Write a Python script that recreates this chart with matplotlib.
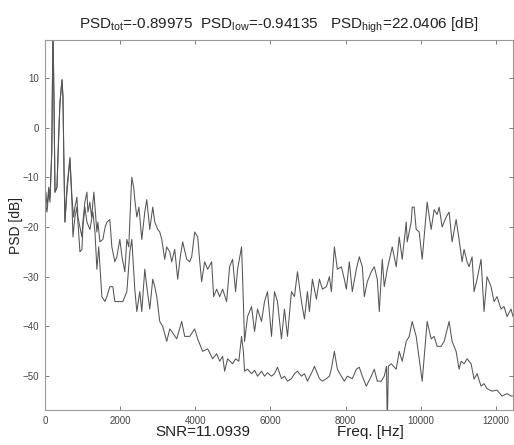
"""PSD spectrum of a signal (two traces), MATLAB-style look.
Saves out.png (514x445)."""
import matplotlib
matplotlib.use("Agg")
import matplotlib.pyplot as plt

plt.rcParams["font.family"] = ["Liberation Sans", "DejaVu Sans"]
plt.rcParams["mathtext.fontset"] = "custom"
plt.rcParams["mathtext.rm"] = "Liberation Sans"
plt.rcParams["mathtext.it"] = "Liberation Sans:italic"

# upper trace (Hz, dB)
freq_a = [0, 25, 53, 100, 133, 180, 212, 240, 266, 319, 360, 398, 452, 478, 505,
          531, 584, 664, 717, 760, 797, 850, 876, 930, 983, 1009, 1062, 1116, 1142,
          1195, 1240, 1301, 1340, 1381, 1408, 1461, 1540, 1600, 1650, 1726, 1780,
          1859, 1912, 1992, 2050, 2125, 2178, 2230, 2290, 2311, 2360, 2390, 2444,
          2500, 2576, 2656, 2709, 2789, 2868, 2922, 3001, 3054, 3108, 3187, 3240,
          3320, 3373, 3453, 3532, 3600, 3665, 3772, 3851, 3904, 3984, 4064, 4120,
          4170, 4250, 4329, 4436, 4489, 4568, 4650, 4728, 4834, 4914, 4993, 5073,
          5126, 5232, 5259, 5312, 5392, 5498, 5578, 5657, 5763, 5843, 5923, 6029,
          6109, 6188, 6294, 6374, 6454, 6560, 6640, 6720, 6826, 6906, 6985, 7038,
          7118, 7224, 7304, 7384, 7490, 7570, 7623, 7702, 7782, 7888, 7968, 8021,
          8101, 8180, 8287, 8366, 8446, 8499, 8579, 8685, 8765, 8845, 8898, 8977,
          9030, 9110, 9243, 9349, 9429, 9508, 9615, 9641, 9747, 9774, 9827, 9880,
          9960, 10040, 10172, 10279, 10358, 10438, 10491, 10571, 10677, 10757,
          10836, 10943, 11022, 11102, 11155, 11235, 11288, 11368, 11421, 11501,
          11607, 11686, 11766, 11873, 11952, 12032, 12138, 12218, 12298, 12404, 12457]
psd_a = [-15, -13, -16, -12, -14, -5, 20, 5, -13, -12, -2, 5, 9.6, 6.2, -8,
         -19, -12, -6, -14, -18, -16, -14, -18, -20, -22, -19, -15, -13, -17,
         -15, -18, -13, -17, -21, -19, -23, -22.5, -20, -19, -18.5, -24,
         -27, -26, -22.5, -26, -29, -22.5, -24, -13, -10, -12, -14.5, -18,
         -16, -22.5, -17, -14.5, -20.5, -16, -19, -20.5, -21, -22.5, -26.5, -24,
         -25, -27, -24.5, -30.5, -26, -23, -26.5, -27, -26, -21, -22, -27,
         -31, -27, -28.5, -27, -34, -32.5, -34, -32.5, -35, -28, -26.5, -33,
         -28.5, -24, -30, -43, -38, -36, -41, -36.5, -39, -35, -33, -42,
         -33, -35, -42.5, -36.5, -42, -33, -34, -29, -35, -38.5, -33, -37,
         -30.5, -34.5, -30.5, -32.5, -32, -30, -33, -24, -28.5, -28, -30.5, -32.5,
         -27, -33, -28.5, -26, -28, -34, -31, -29, -28, -30.5, -37, -26.5,
         -32, -28.5, -24, -28, -22, -26.5, -19, -23, -19, -16, -16, -20.5,
         -21, -26.5, -15, -20.5, -16.5, -17.5, -16, -20, -18, -17,
         -23, -18.5, -22.5, -27, -24.5, -27, -28, -26, -33, -30.5,
         -26.5, -37, -30, -32, -35, -34, -36.5, -36, -38, -36.5, -38]

# lower trace (Hz, dB)
freq_b = [0, 53, 100, 133, 180, 212, 240, 266, 319, 398, 452, 478, 505, 531, 584,
          664, 717, 744, 797, 850, 876, 930, 983, 1009, 1062, 1116, 1195, 1275,
          1330, 1381, 1430, 1514, 1594, 1647, 1726, 1806, 1859, 1992, 2072, 2178,
          2258, 2311, 2390, 2444, 2523, 2576, 2656, 2709, 2789, 2868, 2922, 2975,
          3054, 3134, 3187, 3240, 3320, 3373, 3506, 3639, 3718, 3851, 3984, 4064,
          4196, 4329, 4462, 4568, 4650, 4728, 4781, 4860, 4993, 5073, 5159, 5232,
          5280, 5312, 5392, 5500, 5578, 5657, 5763, 5843, 5923, 6029, 6109, 6188,
          6294, 6374, 6454, 6560, 6640, 6720, 6826, 6906, 6985, 7118, 7171, 7304,
          7384, 7490, 7570, 7623, 7702, 7782, 7888, 7968, 8048, 8180, 8287, 8366,
          8446, 8552, 8685, 8765, 8845, 8951, 9030, 9090, 9110, 9140, 9216, 9349,
          9429, 9508, 9615, 9694, 9774, 9880, 9960, 10040, 10172, 10279, 10358,
          10438, 10544, 10624, 10757, 10836, 10943, 11022, 11075, 11155, 11235,
          11341, 11421, 11501, 11607, 11686, 11766, 11899, 12032, 12165, 12298,
          12404, 12457]
psd_b = [-15, -17, -13, -15, -5, 20, 5, -13, -12, 5, 9.6, 6.2, -8, -19, -13,
         -6.4, -15, -22, -18, -16, -19, -25, -24.5, -20, -16, -19, -20.5, -17,
         -21, -28.5, -24, -34, -35, -34, -32, -32, -35, -35, -35, -33,
         -25, -22.5, -32.5, -37, -33, -37, -28.5, -32, -36.5, -30.5, -32, -34,
         -39, -40, -41.5, -43, -40.5, -41, -42.5, -39, -42, -42, -40.5, -42.5,
         -45, -44.5, -46.5, -45.5, -47, -46, -49, -46.5, -47.5, -46.5, -47, -42,
         -45, -49, -48.6, -49.5, -48.8, -50, -49, -50, -49.3, -50, -49.5, -48.2,
         -50.5, -50, -51, -50.5, -49.5, -49, -50, -49.5, -51, -49, -48, -50.5,
         -51, -50.5, -50, -48.5, -45, -48.6, -50, -51, -50, -50.5, -48.6, -48.2,
         -50, -52, -50, -48.6, -51, -51, -50, -48, -60, -48, -47.5, -48.6,
         -45, -47, -43, -42, -39, -42, -46.5, -51, -39, -42.5, -42,
         -44, -44, -43, -39, -43, -45, -48.6, -47, -47.5, -46.5,
         -47.5, -50.6, -49.5, -52, -51.5, -52.5, -53, -52.8, -54, -53.5,
         -54, -54]

x_ticks = [0, 2000, 4000, 6000, 8000, 10000, 12000]
y_ticks = [-50, -40, -30, -20, -10, 0, 10]

fig = plt.figure(figsize=(5.14, 4.45), dpi=100)
ax = fig.add_axes([45 / 514, 35 / 445, 468 / 514, 370 / 445])

ax.plot(freq_a, psd_a, color="#555555", lw=0.75)
ax.plot(freq_b, psd_b, color="#555555", lw=0.75)

ax.set_xlim(0, 12457)
ax.set_ylim(-56.8, 17.6)
ax.set_xticks(x_ticks)
ax.set_yticks(y_ticks)
ax.tick_params(direction="in", top=True, right=True, length=3, width=0.6,
               labelsize=7, colors="#666666", labelcolor="#444444", pad=4)
for s in ax.spines.values():
    s.set_color("#999999")
    s.set_linewidth(0.8)

ax.set_ylabel("PSD [dB]", fontsize=10, color="#222222", labelpad=0)
ax.set_title(r"PSD$_\mathrm{tot}$=-0.89975  PSD$_\mathrm{low}$=-0.94135   "
             r"PSD$_\mathrm{high}$=22.0406 [dB]", fontsize=11, color="#222222", pad=8)
fig.text(203 / 514, 1 - 432 / 445, "SNR=11.0939", fontsize=11, ha="center",
         va="center", color="#222222")
fig.text(370 / 514, 1 - 432 / 445, "Freq. [Hz]", fontsize=11, ha="center",
         va="center", color="#222222")

fig.savefig("out.png", dpi=100)
